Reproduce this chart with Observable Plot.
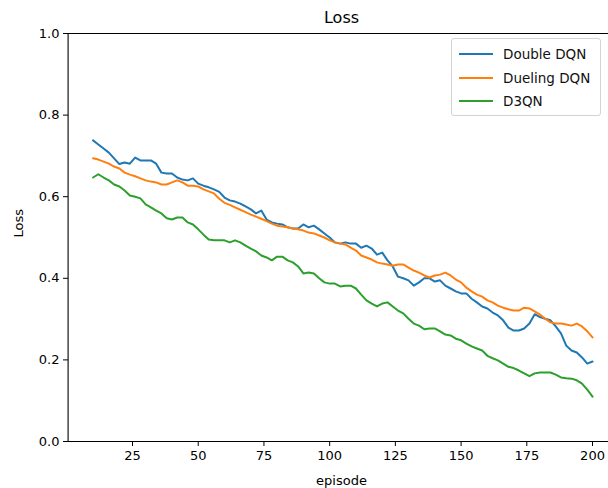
<!DOCTYPE html>
<html>
<head>
<meta charset="utf-8">
<script src="https://cdn.jsdelivr.net/npm/d3@7"></script>
<script src="https://cdn.jsdelivr.net/npm/@observablehq/plot@0.6"></script>
<style>
  html, body { margin: 0; padding: 0; background: #fff; }
  #wrap { position: relative; width: 608px; height: 488px; font-family: "DejaVu Sans", sans-serif; }
  #legend { position: absolute; left: 451px; top: 38px; width: 150px; height: 78px;
    border: 1px solid #d3d3d3; border-radius: 3px; background: rgba(255,255,255,0.8); box-sizing: border-box; }
  .row { position: absolute; left: 0; height: 20px; width: 150px; }
  .row svg { position: absolute; left: 6px; top: 0; }
  .row span { position: absolute; left: 51px; top: 1px; font-size: 13.5px; color: #111; white-space: nowrap; line-height: 18px; }
</style>
</head>
<body>
<div id="wrap"></div>
<script>
// ---- data ----
const title = "Loss";
const xLabel = "episode";
const yLabel = "Loss";
const seriesNames = ["Double DQN", "Dueling DQN", "D3QN"];
const seriesColors = ["#1f77b4", "#ff7f0e", "#2ca02c"];
const xTicks = [25, 50, 75, 100, 125, 150, 175, 200];
const yTicks = [0.0, 0.2, 0.4, 0.6, 0.8, 1.0];

const episodes = [
  10,12,14,16,18,20,22,24,26,28,30,32,34,36,38,40,42,44,46,48,
  50,52,54,56,58,60,62,64,66,68,70,72,74,76,78,80,82,84,86,88,
  90,92,94,96,98,100,102,104,106,108,110,112,114,116,118,120,122,124,126,128,
  130,132,134,136,138,140,142,144,146,148,150,152,154,156,158,160,162,164,166,168,
  170,172,174,176,178,180,182,184,186,188,190,192,194,196,198,200
];
const doubleDQN = [
  0.738,0.728,0.718,0.708,0.694,0.680,0.684,0.681,0.696,0.689,
  0.689,0.689,0.681,0.659,0.657,0.657,0.647,0.642,0.640,0.645,
  0.632,0.627,0.623,0.618,0.612,0.598,0.591,0.588,0.583,0.576,
  0.569,0.559,0.566,0.544,0.537,0.534,0.532,0.525,0.522,0.522,
  0.532,0.525,0.529,0.520,0.510,0.500,0.488,0.485,0.488,0.485,
  0.485,0.475,0.480,0.473,0.458,0.463,0.444,0.429,0.404,0.400,
  0.395,0.382,0.390,0.400,0.400,0.392,0.395,0.382,0.375,0.368,
  0.363,0.363,0.350,0.341,0.331,0.326,0.316,0.309,0.297,0.279,
  0.272,0.272,0.277,0.289,0.312,0.305,0.301,0.297,0.282,0.265,
  0.235,0.223,0.218,0.206,0.191,0.196
];
const duelingDQN = [
  0.694,0.691,0.686,0.681,0.674,0.669,0.659,0.654,0.650,0.645,
  0.640,0.637,0.635,0.630,0.630,0.635,0.640,0.635,0.627,0.627,
  0.625,0.618,0.613,0.608,0.595,0.585,0.580,0.574,0.568,0.562,
  0.556,0.551,0.546,0.540,0.534,0.529,0.527,0.525,0.522,0.520,
  0.517,0.512,0.510,0.505,0.500,0.493,0.488,0.485,0.483,0.475,
  0.468,0.456,0.451,0.446,0.439,0.436,0.434,0.431,0.434,0.434,
  0.426,0.419,0.414,0.407,0.402,0.407,0.409,0.414,0.407,0.397,
  0.390,0.377,0.368,0.360,0.355,0.346,0.341,0.333,0.328,0.324,
  0.321,0.321,0.328,0.326,0.319,0.311,0.301,0.292,0.289,0.289,
  0.287,0.284,0.289,0.282,0.270,0.255
];
const d3qn = [
  0.647,0.655,0.647,0.640,0.630,0.625,0.615,0.603,0.600,0.596,
  0.581,0.574,0.566,0.559,0.547,0.544,0.549,0.549,0.537,0.532,
  0.520,0.507,0.495,0.493,0.493,0.493,0.488,0.493,0.488,0.480,
  0.473,0.466,0.456,0.451,0.444,0.453,0.453,0.444,0.439,0.429,
  0.412,0.414,0.412,0.400,0.390,0.387,0.387,0.380,0.382,0.382,
  0.375,0.360,0.346,0.338,0.331,0.338,0.341,0.331,0.321,0.314,
  0.301,0.289,0.284,0.275,0.277,0.277,0.270,0.262,0.260,0.252,
  0.248,0.240,0.233,0.228,0.223,0.210,0.204,0.199,0.191,0.183,
  0.180,0.174,0.167,0.160,0.167,0.169,0.169,0.169,0.164,0.157,
  0.155,0.154,0.150,0.142,0.127,0.110
];

// ---- build table ----
const seriesValues = [doubleDQN, duelingDQN, d3qn];
const rows = [];
seriesNames.forEach((name, s) => {
  episodes.forEach((ep, i) => rows.push({series: name, episode: ep, loss: seriesValues[s][i]}));
});

const chart = Plot.plot({
  width: 608,
  height: 488,
  marginLeft: 68,
  marginRight: 0,
  marginTop: 33,
  marginBottom: 47,
  style: {fontFamily: "DejaVu Sans, sans-serif", fontSize: "13px", color: "#000", background: "#fff"},
  x: {domain: [0.5, 209.5], range: [67.6, 617]},
  y: {domain: [0, 1]},
  color: {domain: seriesNames, range: seriesColors},
  marks: [
    Plot.line(rows, {x: "episode", y: "loss", z: "series", stroke: "series", strokeWidth: 2, curve: "linear"}),
    Plot.ruleY([0, 1], {stroke: "#000", strokeWidth: 1.1}),
    Plot.ruleX([0.5], {stroke: "#000", strokeWidth: 1.1}),
    Plot.axisX({ticks: xTicks, tickSize: 5, tickPadding: 4, fontSize: 13, label: null, tickFormat: d3.format("d")}),
    Plot.axisY({ticks: yTicks, tickSize: 5, tickPadding: 4, fontSize: 13, label: null, tickFormat: d3.format(".1f")}),
    Plot.text([title], {frameAnchor: "top", lineAnchor: "middle", dx: 3, dy: -16, fontSize: 16, text: d => d}),
    Plot.text([xLabel], {frameAnchor: "bottom", lineAnchor: "middle", dx: 3, dy: 39, fontSize: 13, text: d => d}),
    Plot.text([yLabel], {frameAnchor: "left", dx: -50, rotate: -90, fontSize: 13, text: d => d})
  ]
});
const wrap = document.getElementById("wrap");
wrap.appendChild(chart);

// ---- legend ----
const legend = document.createElement("div");
legend.id = "legend";
const rowTops = [5, 29, 52];
seriesNames.forEach((name, i) => {
  const r = document.createElement("div");
  r.className = "row";
  r.style.top = rowTops[i] + "px";
  r.innerHTML = `<svg width="36" height="20"><line x1="1" x2="35" y1="10" y2="10" stroke="${seriesColors[i]}" stroke-width="2"/></svg><span>${name}</span>`;
  legend.appendChild(r);
});
wrap.appendChild(legend);
</script>
</body>
</html>
